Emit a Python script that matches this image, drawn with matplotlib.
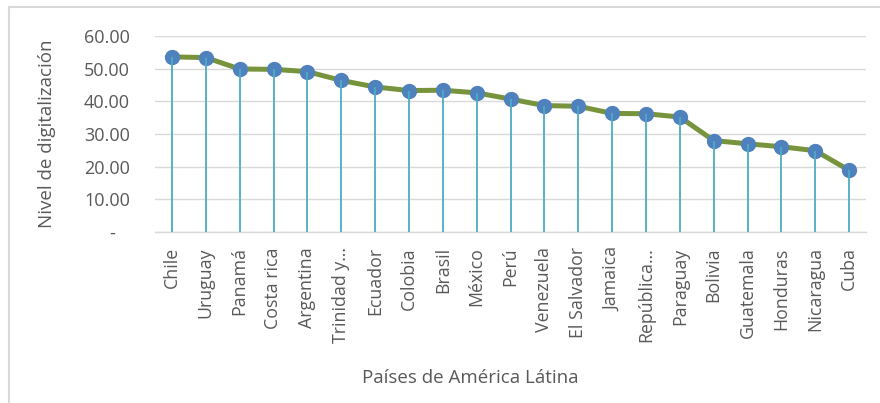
import matplotlib
matplotlib.use("Agg")
import matplotlib.pyplot as plt
from matplotlib.ticker import FuncFormatter, MultipleLocator
from matplotlib.lines import Line2D

countries = ["Chile", "Uruguay", "Panamá", "Costa rica", "Argentina", "Trinidad y…",
             "Ecuador", "Colobia", "Brasil", "México", "Perú", "Venezuela",
             "El Salvador", "Jamaica", "República…", "Paraguay", "Bolivia",
             "Guatemala", "Honduras", "Nicaragua", "Cuba"]
values = [53.6, 53.4, 49.9, 49.8, 49.1, 46.4, 44.4, 43.3, 43.4, 42.6, 40.7, 38.7,
          38.5, 36.3, 36.2, 35.2, 28.0, 27.0, 26.1, 24.9, 18.9]

plt.rcParams['font.family'] = ['Open Sans', 'DejaVu Sans']
TXT = '#595959'
GRID = '#D9D9D9'

fig = plt.figure(figsize=(8.8, 4.03), dpi=100)
ax = fig.add_axes([155/880, 1-232/403, (866-155)/880, (232-36)/403])

x = list(range(len(countries)))
ax.plot(x, values, color='#77933C', linewidth=3.6, zorder=3, solid_capstyle='round')
ax.plot(x, values, linestyle='none', marker='o', markersize=10,
        markerfacecolor='#4F81BD', markeredgecolor='#4F81BD', zorder=4)
ax.vlines(x, 0, values, color='#4BACC6', linewidth=1.3, zorder=5)

ax.set_xlim(-0.5, len(countries) - 0.5)
ax.set_ylim(0, 60)
ax.yaxis.set_major_locator(MultipleLocator(10))
ax.yaxis.set_major_formatter(FuncFormatter(lambda v, p: "-   " if abs(v) < 1e-9 else f"{v:.2f}"))
ax.grid(axis='y', color=GRID, linewidth=1.0, zorder=0)
ax.set_axisbelow(True)
for s in ['top', 'right', 'left']:
    ax.spines[s].set_visible(False)
ax.spines['bottom'].set_color(GRID)
ax.spines['bottom'].set_linewidth(1.0)

ax.set_xticks(x)
ax.set_xticklabels(countries, rotation=90, fontsize=12.8, color=TXT)
ax.tick_params(axis='x', length=0, pad=11)
ax.tick_params(axis='y', length=0, pad=18, labelsize=13, labelcolor=TXT)

ax.set_ylabel("Nivel de digitalización", fontsize=13.5, color=TXT, labelpad=20)
fig.text(470/880, 1-378/403, "Países de América Látina", fontsize=13.5, color=TXT,
         ha='center', va='center')

# chart frame
fig.add_artist(Line2D([9/880, 1.0], [1-7/403, 1-7/403], transform=fig.transFigure,
                      color=GRID, linewidth=1.5))
fig.add_artist(Line2D([9/880, 9/880], [0, 1-7/403], transform=fig.transFigure,
                      color=GRID, linewidth=1.5))

fig.savefig("out.png", dpi=100)
